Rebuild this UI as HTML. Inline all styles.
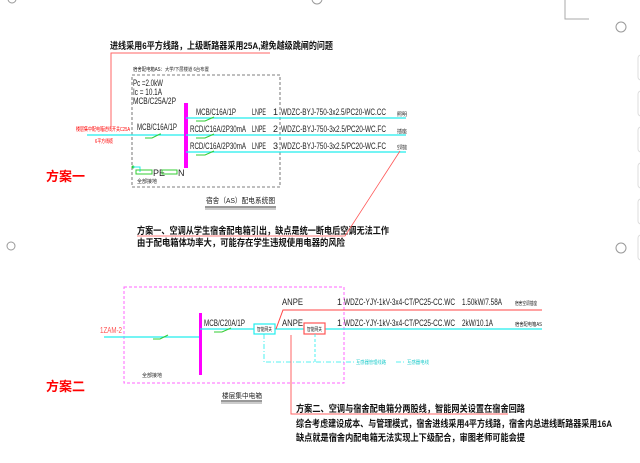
<!DOCTYPE html>
<html><head><meta charset="utf-8"><style>
html,body{margin:0;padding:0;background:#fff;}
svg{display:block;}
text{font-family:"Liberation Sans","Noto Sans CJK SC",sans-serif;}
.cad{font-size:9px;fill:#222;}
.b{font-weight:bold;font-size:9.5px;fill:#111;}
.s{font-size:5px;fill:#222;}
</style></head><body>
<svg width="640" height="463" viewBox="0 0 640 463" xmlns="http://www.w3.org/2000/svg">
<rect width="640" height="463" fill="#fff"/>
<circle cx="12" cy="-1" r="4" fill="none" stroke="#999"/>
<circle cx="317" cy="-1" r="5" fill="none" stroke="#999"/>
<circle cx="11" cy="246" r="4" fill="none" stroke="#999"/>
<circle cx="621" cy="27" r="5" fill="none" stroke="#999"/>
<circle cx="621" cy="248" r="5" fill="none" stroke="#999"/>
<polyline points="565,0 565,19 589,19" fill="none" stroke="#aaa"/>
<g fill="#fff" stroke="#ddd"><rect x="638" y="55" width="6" height="25" rx="3"/><rect x="638" y="91" width="6" height="25" rx="3"/><rect x="638" y="127" width="6" height="25" rx="3"/><rect x="638" y="163" width="6" height="25" rx="3"/><rect x="638" y="199" width="6" height="25" rx="3"/><rect x="638" y="235" width="6" height="25" rx="3"/></g>

<!-- ===== 方案一 ===== -->
<text x="110" y="49" class="b" textLength="223" lengthAdjust="spacingAndGlyphs">进线采用6平方线路，上级断路器采用25A,避免越级跳闸的问题</text>
<polyline points="270,53 111,53 111,127" fill="none" stroke="#f66" stroke-width="1"/>
<text x="133" y="71" class="s" textLength="76" lengthAdjust="spacingAndGlyphs">宿舍配电箱AS：大学/下层楼道 6台布置</text>
<rect x="132" y="75" width="148" height="112" fill="none" stroke="#555" stroke-dasharray="3,2" stroke-width="0.8"/>
<text x="133" y="86" class="cad" textLength="30" lengthAdjust="spacingAndGlyphs">Pc =2.0kW</text>
<text x="133" y="95" class="cad" textLength="29" lengthAdjust="spacingAndGlyphs">Ic = 10.1A</text>
<text x="133" y="104" class="cad" textLength="43" lengthAdjust="spacingAndGlyphs">MCB/C25A/2P</text>
<text x="76" y="131" font-size="5.5" fill="#f00" textLength="54" lengthAdjust="spacingAndGlyphs">楼层集中配电箱进线开关C25A</text>
<text x="95" y="143" font-size="5.5" fill="#f00" textLength="18" lengthAdjust="spacingAndGlyphs">6平方线缆</text>
<line x1="87" y1="135" x2="186" y2="135" stroke="#2ee" stroke-width="1.2"/>
<text x="137" y="130" class="cad" textLength="40" lengthAdjust="spacingAndGlyphs">MCB/C16A/1P</text>
<polyline points="145,138 152,138 160,134 161,134" fill="none" stroke="#3c3" stroke-width="1"/>
<rect x="184" y="103" width="4" height="65" fill="#f0f"/>
<g stroke="#2ee" stroke-width="1.2"><line x1="186" y1="118" x2="406" y2="118"/><line x1="186" y1="135" x2="406" y2="135"/><line x1="186" y1="152" x2="406" y2="152"/></g>
<g fill="none" stroke="#3c3" stroke-width="1"><polyline points="196,121 205,121 214,117"/><polyline points="196,138 205,138 214,134"/><polyline points="196,155 205,155 214,151"/></g>
<text x="196" y="115" class="cad" textLength="40" lengthAdjust="spacingAndGlyphs">MCB/C16A/1P</text>
<text x="190" y="132" class="cad" textLength="56" lengthAdjust="spacingAndGlyphs">RCD/C16A/2P30mA</text>
<text x="190" y="149" class="cad" textLength="56" lengthAdjust="spacingAndGlyphs">RCD/C16A/2P30mA</text>
<g class="cad"><text x="252" y="115" textLength="14" lengthAdjust="spacingAndGlyphs">LNPE</text><text x="252" y="132" textLength="14" lengthAdjust="spacingAndGlyphs">LNPE</text><text x="252" y="149" textLength="14" lengthAdjust="spacingAndGlyphs">LNPE</text>
<text x="273" y="115">1</text><text x="273" y="132">2</text><text x="273" y="149">3</text>
<text x="281" y="115" textLength="105" lengthAdjust="spacingAndGlyphs">WDZC-BYJ-750-3x2.5/PC20-WC.CC</text>
<text x="281" y="132" textLength="105" lengthAdjust="spacingAndGlyphs">WDZC-BYJ-750-3x2.5/PC20-WC.FC</text>
<text x="281" y="149" textLength="105" lengthAdjust="spacingAndGlyphs">WDZC-BYJ-750-3x2.5/PC20-WC.FC</text></g>
<text x="397" y="116" class="s">照明</text><text x="397" y="133" class="s">插座</text><text x="397" y="149" class="s" textLength="10" lengthAdjust="spacingAndGlyphs">空调插座</text>
<circle cx="133" cy="167" r="1.5" fill="#3c3"/>
<polyline points="133,167 140,167 140,172" fill="none" stroke="#2ee" stroke-width="1"/>
<rect x="136" y="170" width="16" height="4" fill="none" stroke="#3c3" stroke-width="1"/>
<text x="153" y="176" class="cad">PE</text>
<rect x="162" y="170" width="15" height="4" fill="none" stroke="#3c3" stroke-width="1"/>
<text x="178" y="176" class="cad">N</text>
<text x="137" y="183" class="s">全部接地</text>
<text x="206" y="203" font-size="7.5" fill="#222" textLength="69" lengthAdjust="spacingAndGlyphs">宿舍（AS）配电系统图</text>
<line x1="205" y1="207" x2="276" y2="207" stroke="#333" stroke-width="1"/>
<line x1="205" y1="209" x2="276" y2="209" stroke="#333" stroke-width="0.6"/>
<text x="46" y="181" font-size="13" font-weight="bold" fill="#f00">方案一</text>
<text x="137" y="234" class="b" textLength="252" lengthAdjust="spacingAndGlyphs">方案一、空调从学生宿舍配电箱引出，缺点是统一断电后空调无法工作</text>
<text x="137" y="246" class="b" textLength="208" lengthAdjust="spacingAndGlyphs">由于配电箱体功率大，可能存在学生违规使用电器的风险</text>
<polyline points="137,236 345,236 400,151" fill="none" stroke="#f55" stroke-width="0.8"/>

<!-- ===== 方案二 ===== -->
<rect x="124" y="287" width="220" height="96" fill="none" stroke="#f6f" stroke-dasharray="3,2" stroke-width="1"/>
<text x="100" y="333" font-size="8" fill="#f55" textLength="22" lengthAdjust="spacingAndGlyphs">1ZAM-2</text>
<line x1="104" y1="337" x2="200" y2="337" stroke="#2ee" stroke-width="1.2"/>
<polyline points="153,339 160,339 168,335" fill="none" stroke="#3c3" stroke-width="1"/>
<rect x="199" y="313" width="3" height="62" fill="#f0f"/>
<line x1="200" y1="329" x2="542" y2="329" stroke="#2ee" stroke-width="1.2"/>
<text x="204" y="326" class="cad" textLength="41" lengthAdjust="spacingAndGlyphs">MCB/C20A/1P</text>
<polyline points="214,332 222,332 231,328" fill="none" stroke="#3c3" stroke-width="1"/>
<rect x="254" y="324" width="21" height="10" fill="#fff" stroke="#2ee" stroke-width="1.2"/>
<text x="257" y="331" class="s" textLength="15" lengthAdjust="spacingAndGlyphs">智能网关</text>
<rect x="304" y="323" width="21" height="11" fill="#fff" stroke="#f55" stroke-width="1.2"/>
<text x="307" y="331" class="s" textLength="15" lengthAdjust="spacingAndGlyphs">智能网关</text>
<polyline points="276,329 283,310 542,310" fill="none" stroke="#f44" stroke-width="1"/>
<g class="cad"><text x="282" y="305" textLength="21" lengthAdjust="spacingAndGlyphs">ANPE</text><text x="282" y="326" textLength="21" lengthAdjust="spacingAndGlyphs">ANPE</text>
<text x="337" y="305">1</text><text x="337" y="326">1</text>
<text x="344" y="305" textLength="111" lengthAdjust="spacingAndGlyphs">WDZC-YJY-1kV-3x4-CT/PC25-CC.WC</text>
<text x="344" y="326" textLength="111" lengthAdjust="spacingAndGlyphs">WDZC-YJY-1kV-3x4-CT/PC25-CC.WC</text>
<text x="462" y="305" textLength="40" lengthAdjust="spacingAndGlyphs">1.50kW/7.58A</text><text x="462" y="326" textLength="31" lengthAdjust="spacingAndGlyphs">2kW/10.1A</text></g>
<text x="515" y="305" class="s" textLength="22" lengthAdjust="spacingAndGlyphs">宿舍空调插座</text><text x="515" y="326" class="s" textLength="27" lengthAdjust="spacingAndGlyphs">宿舍配电箱AS</text>
<polyline points="264,334 264,362 405,362" fill="none" stroke="#2ee" stroke-dasharray="5,2,1,2" stroke-width="0.8"/>
<line x1="315" y1="334" x2="315" y2="362" stroke="#2ee" stroke-dasharray="3,2" stroke-width="0.8"/>
<rect x="354" y="358" width="40" height="8" fill="#fff"/>
<text x="356" y="364" font-size="5" fill="#2cc" textLength="30" lengthAdjust="spacingAndGlyphs">互感器管理线路</text>
<text x="407" y="364" font-size="5" fill="#2cc" textLength="22" lengthAdjust="spacingAndGlyphs">互感器电线</text>
<text x="142" y="377" class="s">全部接地</text>
<text x="46" y="391" font-size="13" font-weight="bold" fill="#f00">方案二</text>
<text x="222" y="398" font-size="7" fill="#222" textLength="40" lengthAdjust="spacingAndGlyphs">楼层集中电箱</text>
<line x1="221" y1="401" x2="262" y2="401" stroke="#333" stroke-width="1"/>
<line x1="221" y1="403" x2="262" y2="403" stroke="#333" stroke-width="0.6"/>
<polyline points="291,335 291,414 508,414" fill="none" stroke="#f66" stroke-width="1"/>
<text x="296" y="412" class="b" textLength="229" lengthAdjust="spacingAndGlyphs">方案二、空调与宿舍配电箱分两股线，智能网关设置在宿舍回路</text>
<text x="296" y="427" class="b" textLength="316" lengthAdjust="spacingAndGlyphs">综合考虑建设成本、与管理模式，宿舍进线采用4平方线路，宿舍内总进线断路器采用16A</text>
<text x="296" y="441" class="b" textLength="229" lengthAdjust="spacingAndGlyphs">缺点就是宿舍内配电箱无法实现上下级配合，审图老师可能会提</text>
</svg>
</body></html>
